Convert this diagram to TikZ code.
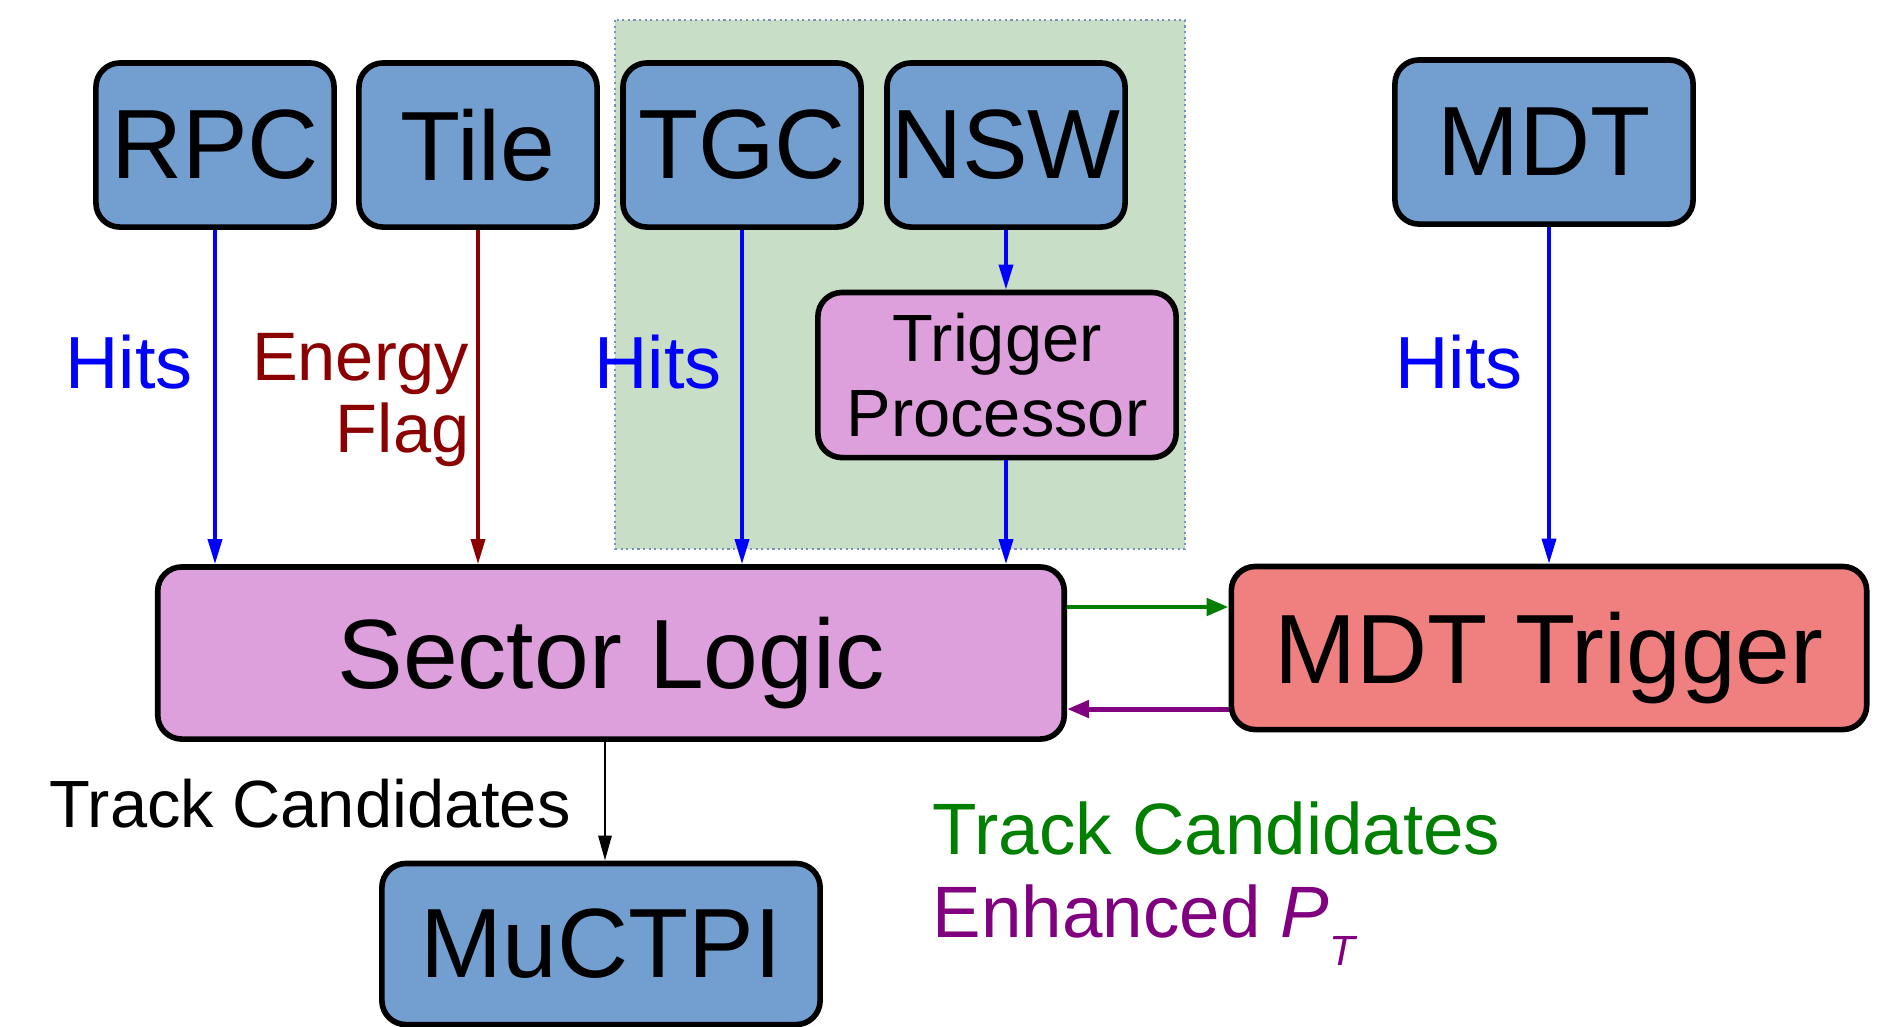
\documentclass[tikz,border=0pt]{standalone}
\usepackage{fontspec}
\setmainfont{Liberation Sans}
\usepackage{xcolor}
\usepackage{tikz}
\usetikzlibrary{calc,arrows.meta}
\definecolor{detblue}{HTML}{729FCF}
\definecolor{logicpink}{HTML}{DDA0DD}
\definecolor{mdtred}{HTML}{F08080}
\definecolor{regiongreen}{HTML}{C8DEC6}
\definecolor{regionedge}{HTML}{7393BA}
\definecolor{hitblue}{HTML}{0000FF}
\definecolor{flagred}{HTML}{8B0000}
\definecolor{candgreen}{HTML}{007F00}
\definecolor{ptpurple}{HTML}{800080}
\tikzset{
  box/.style={draw=black, line width=1.6pt, rounded corners=0.24cm, inner sep=0pt,
    font=\fontsize{28}{30}\selectfont},
  det/.style={box, fill=detblue},
  logic/.style={box, fill=logicpink},
  sig/.style={line width=1.0pt, -{Triangle[length=0.25cm,width=0.14cm]}},
  hitarr/.style={sig, draw=hitblue, fill=hitblue},
  flagarr/.style={sig, draw=flagred, fill=flagred},
  lab/.style={inner sep=0pt, font=\fontsize{21}{20.5}\selectfont}
}
\begin{document}
\begin{tikzpicture}[x=0.01cm,y=-0.01cm]
  \useasboundingbox (0,0) rectangle (1891,1026);

  % new small wheel region
  \fill[regiongreen] (615,20) rectangle (1185,549);
  \draw[regionedge, densely dotted, line width=0.6pt] (615,20) rectangle (1185,549);

  % detectors
  \node[det, minimum width=2.38cm, minimum height=1.64cm] (rpc)  at (215,145)  {RPC};
  \node[det, minimum width=2.38cm, minimum height=1.64cm] (tile) at (478,145)  {Tile};
  \node[det, minimum width=2.38cm, minimum height=1.64cm] (tgc)  at (742,145)  {TGC};
  \node[det, minimum width=2.38cm, minimum height=1.64cm] (nsw)  at (1006,145) {NSW};
  \node[det, minimum width=2.98cm, minimum height=1.64cm] (mdt)  at (1544,142) {MDT};

  \node[logic, minimum width=3.58cm, minimum height=1.65cm, align=center,
        font=\fontsize{19}{21.5}\selectfont] (tp) at (997,375) {Trigger\\Processor};

  \node[logic, minimum width=9.06cm, minimum height=1.72cm, text depth=0pt] (sl) at (611,653) {Sector Logic};
  \node[box, fill=mdtred, minimum width=6.35cm, minimum height=1.63cm, text depth=0pt] (mdtt) at (1549,648) {MDT Trigger};
  \node[det, minimum width=4.38cm, minimum height=1.61cm] (muc) at (601,944) {MuCTPI};

  % hits and flags
  \draw[hitarr]  (rpc)  -- (rpc |- sl.north);
  \draw[flagarr] (tile) -- (tile |- sl.north);
  \draw[hitarr]  (tgc)  -- (tgc |- sl.north);
  \draw[hitarr]  (nsw)  -- (nsw |- tp.north);
  \draw[hitarr]  (tp.south -| nsw) -- (nsw |- sl.north);
  \draw[hitarr]  (mdt.south -| mdtt) -- (mdtt.north);

  \node[lab, text=hitblue] (hits1) at (129,362) {Hits};
  \node[lab, text=flagred, align=right, anchor=east,
        font=\fontsize{19.5}{20.5}\selectfont] (eflag) at (470,400) {Energy\\Flag};
  \node[lab, text=hitblue] (hits2) at (658,362) {Hits};
  \node[lab, text=hitblue] (hits3) at (1459,362) {Hits};

  % loop with the MDT trigger
  \draw[candgreen, line width=1.4pt, -{Triangle[length=0.22cm,width=0.17cm]}]
    ([yshift=0.46cm]sl.east) -- ([yshift=0.46cm]sl.east -| mdtt.west);
  \draw[ptpurple, line width=1.4pt, -{Triangle[length=0.22cm,width=0.17cm]}]
    ([yshift=-0.56cm]sl.east -| mdtt.west) -- ([yshift=-0.56cm]sl.east);

  \draw[black, line width=0.8pt, -{Triangle[length=0.25cm,width=0.13cm]}]
    ([xshift=0.04cm]muc.north |- sl.south) -- ([xshift=0.04cm]muc.north);

  \node[inner sep=0pt, font=\fontsize{19}{21}\selectfont] (tc) at (310,804) {Track Candidates};
  \node[inner sep=0pt, anchor=base west, text=candgreen, font=\fontsize{20.7}{22}\selectfont]
    (tcg) at (932,854) {Track Candidates};
  \node[inner sep=0pt, anchor=base west, text=ptpurple, font=\fontsize{20.7}{22}\selectfont]
    (ept) at (932,937) {Enhanced \textit{P}\raisebox{-8pt}{\fontsize{12}{12}\selectfont\textit{T}}};
\end{tikzpicture}
\end{document}
